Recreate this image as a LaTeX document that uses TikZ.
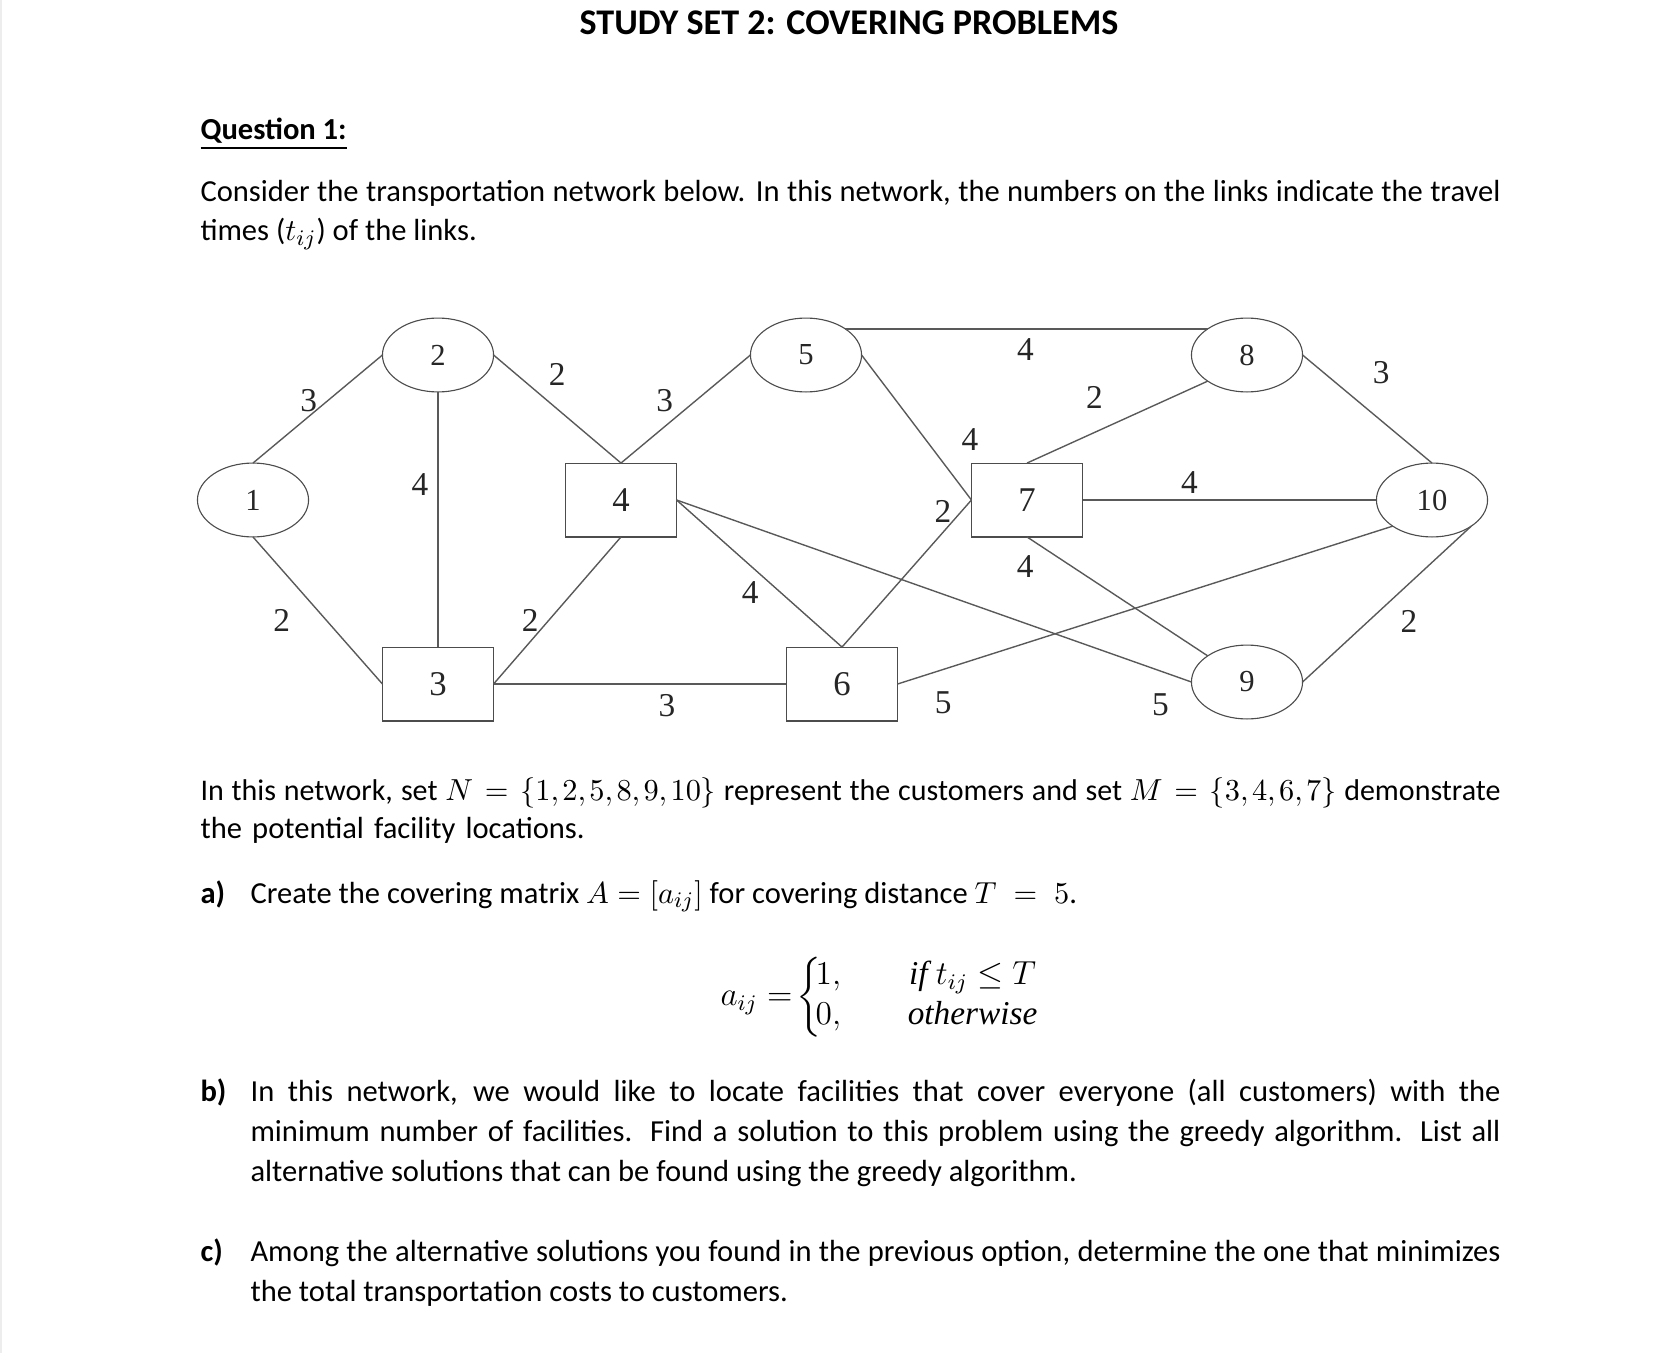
\documentclass[tikz,border=0pt]{standalone}
\usepackage{amsmath}
\usepackage{fontspec}
\setmainfont{Carlito}
\newfontfamily\netfont{Liberation Serif}
\usetikzlibrary{shapes.geometric}

\begin{document}
\begin{tikzpicture}[
  x=0.36pt, y=-0.36pt,
  cust/.style={draw=black!70, ellipse, minimum width=40pt, minimum height=26.6pt, inner sep=0pt, outer sep=0pt, text=black!85, font=\netfont\fontsize{11}{11}\selectfont},
  fac/.style={draw=black!70, rectangle, minimum width=40pt, minimum height=26.6pt, inner sep=0pt, outer sep=0pt, text=black!85, font=\netfont\fontsize{12.5}{12}\selectfont},
  link/.style={draw=black!65, line width=0.5pt},
  tt/.style={inner sep=0pt, text=black!85, font=\netfont\fontsize{12}{12}\selectfont},
  para/.style={anchor=base west, inner sep=0pt, font=\fontsize{11}{14}\selectfont},
  item/.style={anchor=base west, inner sep=0pt, font=\fontsize{11}{14}\selectfont\bfseries}]
  \useasboundingbox (0,0) rectangle (1666,1353);
  \fill[black!7] (0,0) rectangle (2,1353);

  \node[anchor=base, inner sep=0pt, font=\fontsize{13}{16}\selectfont\bfseries] (title) at (849,35) {STUDY SET 2: COVERING PROBLEMS};
  \node[item] (q1) at (200,140) {\underline{Question 1:}};
  \node[para, text width=468pt, align=justify] (intro) at (200,202) {Consider the transportation network below. In this network, the numbers on the links indicate the travel\linebreak times ($t_{ij}$) of the links.};

  \node[cust] (n1) at (253,500) {1};
  \node[cust] (n2) at (438,355) {2};
  \node[fac] (n3) at (438,684) {3};
  \node[fac] (n4) at (621,500) {4};
  \node[cust] (n5) at (806,355) {5};
  \node[fac] (n6) at (842,684) {6};
  \node[fac] (n7) at (1027,500) {7};
  \node[cust] (n8) at (1247,355) {8};
  \node[cust] (n9) at (1247,682) {9};
  \node[cust] (n10) at (1432,500) {10};

  \draw[link] (n1.north) -- node[tt, shift={(-9,-8)}] {3} (n2.west);
  \draw[link] (n1.south) -- node[tt, shift={(-36,10)}] {2} (n3.west);
  \draw[link] (n2.south) -- node[tt, shift={(-18,-35)}] {4} (n3.north);
  \draw[link] (n2.east) -- node[tt, shift={(0,-35)}] {2} (n4.north);
  \draw[link] (n4.north) -- node[tt, shift={(-21,-8)}] {3} (n5.west);
  \draw[link] (n3.east) -- node[tt, shift={(-27,10)}] {2} (n4.south);
  \draw[link] (n3.east) -- node[tt, shift={(27,22)}] {3} (n6.west);
  \draw[link] (n5.north east) -- node[tt, shift={(-1,21)}] {4} (n8.north west);
  \draw[link] (n5.east) -- node[tt, pos=.85, shift={(15,-39)}] {4} (n7.west);
  \draw[link] (n7.north) -- node[tt, shift={(-23,-25)}] {2} (n8.south west);
  \draw[link] (n7.east) -- node[tt, shift={(-40,-17)}] {4} (n10.west);
  \draw[link] (n6.north) -- node[tt, pos=.85, shift={(-9,-11)}] {2} (n7.west);
  \draw[link] (n4.east) -- node[tt, shift={(-9,19)}] {4} (n6.north);
  \draw[link] (n4.east) -- node[tt, pos=.94, shift={(0,34)}] {5} (n9.west);
  \draw[link] (n7.south) -- node[tt, pos=.1, shift={(-20,18)}] {4} (n9.north west);
  \draw[link] (n6.east) -- node[tt, pos=.1, shift={(-4,35)}] {5} (n10.south west);
  \draw[link] (n8.east) -- node[tt, shift={(14,-36)}] {3} (n10.north);
  \draw[link] (n9.east) -- node[tt, shift={(22,17)}] {2} (n10.south east);

  \node[para, text width=468pt, align=left] (sets) at (200,800) {\makebox[\linewidth][s]{\fontsize{10.8}{14}\selectfont\spaceskip=0.22em plus 0.1em minus 0.1em\thinmuskip=2mu In this network, set $N=\{1,2,5,8,9,10\}$ represent the customers and set $M=\{3,4,6,7\}$ demonstrate}\\ the potential facility locations.};

  \node[item] (qa) at (200,903) {a)};
  \node[para] (ta) at (250,903) {Create the covering matrix $A=[a_{ij}]$ for covering distance $T\;=\;5$.};
  \node[anchor=base west, inner sep=0pt, font=\fontsize{12}{14.4}\selectfont] (aij) at (720,1005)
    {$a_{ij}=\hspace{-2pt}\biggl\{\mskip-3mu\begin{array}{@{}l@{\hspace{24pt}}c@{}} 1, & \text{\netfont\itshape if }t_{ij}\le T\\ 0, & \text{\netfont\itshape otherwise}\end{array}$};

  \node[item] (qb) at (200,1101) {b)};
  \node[para, text width=450pt, align=justify, font=\fontsize{11}{14.4}\selectfont] (tb) at (250,1101) {In this network, we would like to locate facilities that cover everyone (all customers) with the\linebreak minimum number of facilities. Find a solution to this problem using the greedy algorithm. List all\linebreak alternative solutions that can be found using the greedy algorithm.};

  \node[item] (qc) at (200,1261) {c)};
  \node[para, text width=450pt, align=justify, font=\fontsize{11}{14.4}\selectfont] (tc) at (250,1261) {Among the alternative solutions you found in the previous option, determine the one that minimizes\linebreak the total transportation costs to customers.};
\end{tikzpicture}
\end{document}
